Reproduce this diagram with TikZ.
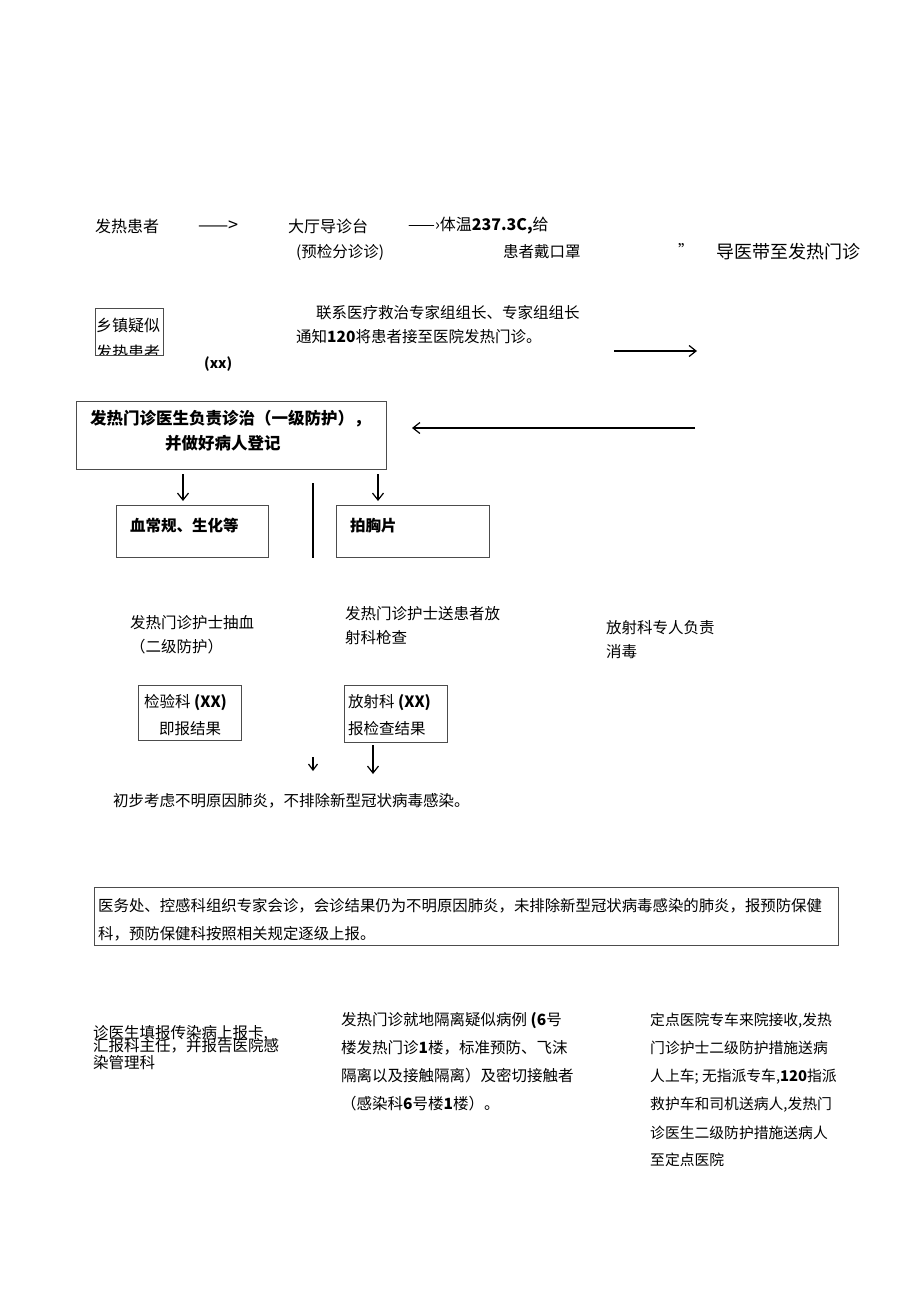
\documentclass[tikz,border=0pt]{standalone}
\usepackage{fontspec}
\setmainfont{Noto Sans CJK SC}
\usetikzlibrary{arrows.meta}
\tikzset{
  t/.style={anchor=west, inner sep=0pt, font=\fontsize{15.5}{18}\selectfont},
  tb/.style={t, font=\fontsize{15.5}{18}\selectfont\bfseries},
  box/.style={draw=black!70, line width=0.8pt, anchor=north west, inner sep=0pt},
  arr/.style={-{Straight Barb[length=7pt,width=11pt,line width=1.2pt]}, line width=1.5pt},
  plain/.style={line width=1.6pt}
}
\begin{document}
\begin{tikzpicture}[x=1pt,y=-1pt]
\useasboundingbox (0,0) rectangle (920,1301);
% row 1
\node[t, font=\fontsize{16}{18}\selectfont] (p1) at (95,226) {发热患者};
\node[t, font=\fontsize{18}{18}\selectfont] (d1) at (198,226) {——>};
\node[t, font=\fontsize{16}{18}\selectfont] (p2) at (288,226) {大厅导诊台};
\node[t, font=\fontsize{16}{18}\selectfont] (p3) at (408,226) {——›体温\textbf{237.3C,}给};
\node[t] (p4) at (296,252) {(预检分诊诊)};
\node[t] (p5) at (503,252) {患者戴口罩};
\node[t] (q1) at (678,250) {”};
\node[t, font=\fontsize{18}{20}\selectfont] (p6) at (716,252) {导医带至发热门诊};
% row 2
\begin{scope}
\clip (95,308) rectangle (163,355);
\node[t, font=\fontsize{16}{18}\selectfont] (v1) at (96,325) {乡镇疑似};
\node[t, font=\fontsize{16}{18}\selectfont] (v2) at (96,352) {发热患者};
\end{scope}
\node[box, minimum width=68pt, minimum height=47pt] (vbox) at (95,308) {};
\node[tb, font=\fontsize{14}{15}\selectfont\bfseries] (xx) at (204,364) {(xx)};
\node[t] (c1) at (316,313) {联系医疗救治专家组组长、专家组组长};
\node[t] (c2) at (296,337) {通知\textbf{120}将患者接至医院发热门诊。};
\coordinate (ra1) at (614,351);
\coordinate (ra2) at (697,351);
\draw[arr] (ra1) -- (ra2);
% doctor box
\node[box, minimum width=310pt, minimum height=68pt] (doc) at (76,401) {};
\node[tb, font=\fontsize{16.5}{18}\selectfont\bfseries] (doc1) at (90,419) {发热门诊医生负责诊治（一级防护），};
\node[tb, font=\fontsize{16.5}{18}\selectfont\bfseries] (doc2) at (165,443) {并做好病人登记};
\coordinate (la1) at (695,428);
\coordinate (la2) at (412,428);
\draw[arr] (la1) -- (la2);
% tests
\coordinate (a1s) at (183,474);
\coordinate (a1e) at (183,501);
\coordinate (a2s) at (378,474);
\coordinate (a2e) at (378,501);
\draw[arr] (a1s) -- (a1e);
\draw[arr] (a2s) -- (a2e);
\coordinate (vl1) at (313,483);
\coordinate (vl2) at (313,558);
\draw[plain] (vl1) -- (vl2);
\node[box, minimum width=152pt, minimum height=52pt] (blood) at (116,505) {};
\node[tb] (bloodt) at (130,526) {血常规、生化等};
\node[box, minimum width=153pt, minimum height=52pt] (xray) at (336,505) {};
\node[tb] (xrayt) at (350,526) {拍胸片};
% nurse texts
\node[t] (n1) at (130,623) {发热门诊护士抽血};
\node[t] (n2) at (130,647) {（二级防护）};
\node[t] (n3) at (345,614) {发热门诊护士送患者放};
\node[t] (n4) at (345,638) {射科枪查};
\node[t] (n5) at (606,628) {放射科专人负责};
\node[t] (n6) at (606,652) {消毒};
% lab boxes
\node[box, minimum width=103pt, minimum height=55pt] (lab) at (138,685) {};
\node[t] (lab1) at (144,703) {检验科 \textbf{(XX)}};
\node[t] (lab2) at (159,729) {即报结果};
\node[box, minimum width=103pt, minimum height=57pt] (rad) at (344,685) {};
\node[t] (rad1) at (348,703) {放射科 \textbf{(XX)}};
\node[t] (rad2) at (348,729) {报检查结果};
\coordinate (s1) at (313,757);
\coordinate (s2) at (313,771);
\draw[-{Straight Barb[length=6pt,width=9pt,line width=1.2pt]}, line width=1.3pt] (s1) -- (s2);
\coordinate (b1) at (373,745);
\coordinate (b2) at (373,774);
\draw[arr] (b1) -- (b2);
\node[t] (prelim) at (113,801) {初步考虑不明原因肺炎，不排除新型冠状病毒感染。};
% consult box
\node[box, minimum width=744pt, minimum height=58pt] (cons) at (94,887) {};
\node[t, font=\fontsize{15.4}{18}\selectfont] (cons1) at (98,906) {医务处、控感科组织专家会诊，会诊结果仍为不明原因肺炎，未排除新型冠状病毒感染的肺炎，报预防保健};
\node[t, font=\fontsize{15.4}{18}\selectfont] (cons2) at (98,934) {科，预防保健科按照相关规定逐级上报。};
% bottom left
\node[t] (bl1) at (93,1033) {诊医生填报传染病上报卡,};
\node[t] (bl2) at (93,1046) {汇报科主任，并报告医院感};
\node[t] (bl3) at (93,1063) {染管理科};
% bottom middle
\node[t] (bm1) at (341,1021) {发热门诊就地隔离疑似病例 \textbf{(6}号};
\node[t] (bm2) at (341,1048) {楼发热门诊\textbf{1}楼，标准预防、飞沫};
\node[t] (bm3) at (341,1076) {隔离以及接触隔离）及密切接触者};
\node[t] (bm4) at (341,1104) {（感染科\textbf{6}号楼\textbf{1}楼）。};
% bottom right
\node[t, font=\fontsize{14.8}{18}\selectfont] (br1) at (650,1021) {定点医院专车来院接收,发热};
\node[t, font=\fontsize{14.8}{18}\selectfont] (br2) at (650,1048) {门诊护士二级防护措施送病};
\node[t, font=\fontsize{14.8}{18}\selectfont] (br3) at (650,1077) {人上车; 无指派专车,\textbf{120}指派};
\node[t, font=\fontsize{14.8}{18}\selectfont] (br4) at (650,1105) {救护车和司机送病人,发热门};
\node[t, font=\fontsize{14.8}{18}\selectfont] (br5) at (650,1133) {诊医生二级防护措施送病人};
\node[t, font=\fontsize{14.8}{18}\selectfont] (br6) at (650,1160) {至定点医院};
\end{tikzpicture}
\end{document}
